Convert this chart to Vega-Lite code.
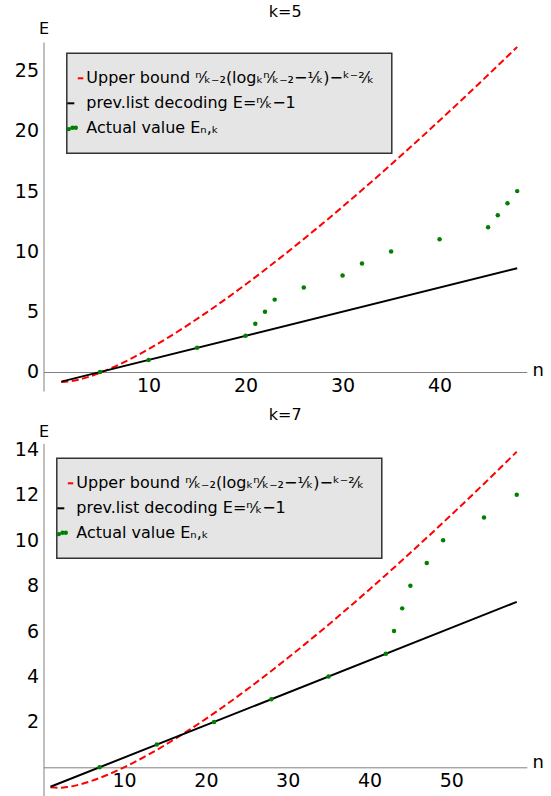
{
  "$schema": "https://vega.github.io/schema/vega-lite/v6.json",
  "background": "white",
  "padding": {"left": 13.5, "top": 4, "right": 5, "bottom": 0},
  "autosize": {"type": "pad"},
  "spacing": 52.3,
  "bounds": "flush",
  "config": {
    "view": {"stroke": null},
    "font": "DejaVu Sans",
    "axis": {
      "grid": false,
      "domainColor": "#808080",
      "tickColor": "#808080",
      "tickWidth": 1,
      "domainWidth": 1,
      "tickSize": 0,
      "labelColor": "#000000",
      "labelFont": "DejaVu Sans",
      "labelFontSize": 19,
      "labelOverlap": false,
      "labelFlush": false,
      "labelBound": false,
      "labelPadding": 5,
      "format": "d",
      "titleFont": "DejaVu Sans",
      "titleFontWeight": "normal",
      "titleColor": "#000000",
      "titleAngle": 0,
      "titleAlign": "center",
      "titleBaseline": "alphabetic"
    },
    "legend": {
      "orient": "none",
      "fillColor": "#e5e5e5",
      "strokeColor": "#333333",
      "padding": 17,
      "labelFont": "DejaVu Sans",
      "labelFontSize": 16,
      "labelColor": "#000000",
      "labelLimit": 0,
      "symbolSize": 4,
      "symbolOffset": -7.5,
      "rowPadding": 9,
      "labelOffset": -6,
      "title": null
    },
    "title": {
      "font": "DejaVu Sans",
      "fontSize": 16,
      "fontWeight": "normal",
      "color": "#000000",
      "anchor": "middle",
      "frame": "group",
      "baseline": "alphabetic"
    }
  },
  "resolve": {"scale": {"color": "independent"}, "legend": {"color": "independent"}},
  "datasets": {
    "k5": [
      {"s": "bound", "n": 1, "E": -0.828},
      {"s": "bound", "n": 2, "E": -0.768},
      {"s": "bound", "n": 3, "E": -0.6},
      {"s": "bound", "n": 4, "E": -0.362},
      {"s": "bound", "n": 5, "E": -0.071},
      {"s": "bound", "n": 6, "E": 0.261},
      {"s": "bound", "n": 7, "E": 0.628},
      {"s": "bound", "n": 8, "E": 1.025},
      {"s": "bound", "n": 10, "E": 1.894},
      {"s": "bound", "n": 12, "E": 2.845},
      {"s": "bound", "n": 14, "E": 3.867},
      {"s": "bound", "n": 16, "E": 4.947},
      {"s": "bound", "n": 18, "E": 6.08},
      {"s": "bound", "n": 20, "E": 7.258},
      {"s": "bound", "n": 22, "E": 8.478},
      {"s": "bound", "n": 24, "E": 9.736},
      {"s": "bound", "n": 26, "E": 11.029},
      {"s": "bound", "n": 28, "E": 12.353},
      {"s": "bound", "n": 30, "E": 13.707},
      {"s": "bound", "n": 32, "E": 15.088},
      {"s": "bound", "n": 34, "E": 16.495},
      {"s": "bound", "n": 36, "E": 17.928},
      {"s": "bound", "n": 38, "E": 19.382},
      {"s": "bound", "n": 40, "E": 20.859},
      {"s": "bound", "n": 42, "E": 22.356},
      {"s": "bound", "n": 44, "E": 23.873},
      {"s": "bound", "n": 46, "E": 25.408},
      {"s": "bound", "n": 48, "E": 26.963},
      {"s": "prev", "n": 1, "E": -0.8},
      {"s": "prev", "n": 48, "E": 8.6},
      {"s": "actual", "n": 5, "E": 0},
      {"s": "actual", "n": 10, "E": 1},
      {"s": "actual", "n": 15, "E": 2},
      {"s": "actual", "n": 20, "E": 3},
      {"s": "actual", "n": 21, "E": 4},
      {"s": "actual", "n": 22, "E": 5},
      {"s": "actual", "n": 23, "E": 6},
      {"s": "actual", "n": 26, "E": 7},
      {"s": "actual", "n": 30, "E": 8},
      {"s": "actual", "n": 32, "E": 9},
      {"s": "actual", "n": 35, "E": 10},
      {"s": "actual", "n": 40, "E": 11},
      {"s": "actual", "n": 45, "E": 12},
      {"s": "actual", "n": 46, "E": 13},
      {"s": "actual", "n": 47, "E": 14},
      {"s": "actual", "n": 48, "E": 15}
    ],
    "k7": [
      {"s": "bound", "n": 1, "E": -0.88},
      {"s": "bound", "n": 2, "E": -0.903},
      {"s": "bound", "n": 3, "E": -0.872},
      {"s": "bound", "n": 4, "E": -0.806},
      {"s": "bound", "n": 5, "E": -0.714},
      {"s": "bound", "n": 6, "E": -0.602},
      {"s": "bound", "n": 8, "E": -0.328},
      {"s": "bound", "n": 10, "E": -0.002},
      {"s": "bound", "n": 12, "E": 0.366},
      {"s": "bound", "n": 14, "E": 0.767},
      {"s": "bound", "n": 16, "E": 1.199},
      {"s": "bound", "n": 18, "E": 1.656},
      {"s": "bound", "n": 20, "E": 2.135},
      {"s": "bound", "n": 22, "E": 2.636},
      {"s": "bound", "n": 24, "E": 3.155},
      {"s": "bound", "n": 26, "E": 3.692},
      {"s": "bound", "n": 28, "E": 4.244},
      {"s": "bound", "n": 30, "E": 4.811},
      {"s": "bound", "n": 32, "E": 5.391},
      {"s": "bound", "n": 34, "E": 5.985},
      {"s": "bound", "n": 36, "E": 6.59},
      {"s": "bound", "n": 38, "E": 7.207},
      {"s": "bound", "n": 40, "E": 7.835},
      {"s": "bound", "n": 42, "E": 8.473},
      {"s": "bound", "n": 44, "E": 9.121},
      {"s": "bound", "n": 46, "E": 9.778},
      {"s": "bound", "n": 48, "E": 10.444},
      {"s": "bound", "n": 50, "E": 11.119},
      {"s": "bound", "n": 52, "E": 11.801},
      {"s": "bound", "n": 54, "E": 12.492},
      {"s": "bound", "n": 56, "E": 13.191},
      {"s": "bound", "n": 58, "E": 13.897},
      {"s": "prev", "n": 1, "E": -0.857},
      {"s": "prev", "n": 58, "E": 7.286},
      {"s": "actual", "n": 7, "E": 0},
      {"s": "actual", "n": 14, "E": 1},
      {"s": "actual", "n": 21, "E": 2},
      {"s": "actual", "n": 28, "E": 3},
      {"s": "actual", "n": 35, "E": 4},
      {"s": "actual", "n": 42, "E": 5},
      {"s": "actual", "n": 43, "E": 6},
      {"s": "actual", "n": 44, "E": 7},
      {"s": "actual", "n": 45, "E": 8},
      {"s": "actual", "n": 47, "E": 9},
      {"s": "actual", "n": 49, "E": 10},
      {"s": "actual", "n": 54, "E": 11},
      {"s": "actual", "n": 58, "E": 12}
    ]
  },
  "vconcat": [
    {
      "title": {"text": "k=5", "offset": 0.5},
      "width": 483.3,
      "height": 349,
      "data": {"name": "k5"},
      "encoding": {
        "x": {
          "field": "n", "type": "quantitative",
          "scale": {"domain": [-0.835, 48.99], "nice": false, "zero": false},
          "axis": {
            "title": "n", "orient": "bottom", "offset": -19, "labelPadding": 4,
            "values": [2,4,6,8,10,12,14,16,18,20,22,24,26,28,30,32,34,36,38,40,42,44,46,48],
            "labelExpr": "datum.value % 10 == 0 ? datum.label : ''",
            "titleX": 494.3, "titleY": 3.3, "titleFontSize": 18,
            "encode": {"ticks": {"update": {"y2": {"signal": "datum.value % 10 == 0 ? -4.5 : -2.5"}}}}
          }
        },
        "y": {
          "field": "E", "type": "quantitative",
          "scale": {"domain": [-1.58, 27.37], "nice": false, "zero": false},
          "axis": {
            "title": "E", "orient": "left",
            "values": [-1,0,1,2,3,4,5,6,7,8,9,10,11,12,13,14,15,16,17,18,19,20,21,22,23,24,25,26,27],
            "labelExpr": "datum.value % 5 == 0 && datum.value >= 0 ? datum.label : ''",
            "titleX": 0, "titleY": -8.4, "titleFontSize": 16,
            "encode": {"ticks": {"update": {"x2": {"signal": "datum.value % 5 == 0 ? 4.5 : 2.5"}}}}
          }
        },
        "color": {
          "field": "s", "type": "nominal",
          "scale": {"domain": ["bound", "prev", "actual"], "range": ["#ff0000", "#000000", "#008000"]},
          "legend": {
            "legendX": 23.3, "legendY": 11.3,
            "labelExpr": "datum.value == 'bound' ? 'Upper bound ⁿ⁄ₖ₋₂(logₖⁿ⁄ₖ₋₂−¹⁄ₖ)−ᵏ⁻²⁄ₖ' : datum.value == 'prev' ? 'prev.list decoding E=ⁿ⁄ₖ−1' : 'Actual value Eₙ,ₖ'",
            "encode": {
              "legend": {"update": {"strokeWidth": {"value": 1.5}}},
              "symbols": {"update": {
                "shape": {"signal": "datum.value == 'bound' ? 'M-6.5,0H-1' : datum.value == 'prev' ? 'M-17,0H-10' : 'M-16.7,0.8a1.2,1.2 0 1,0 2.4,0a1.2,1.2 0 1,0 -2.4,0M-13,-0.6a1.2,1.2 0 1,0 2.4,0a1.2,1.2 0 1,0 -2.4,0M-9.7,-0.6a1.2,1.2 0 1,0 2.4,0a1.2,1.2 0 1,0 -2.4,0'"},
                "fill": {"signal": "datum.value == 'actual' ? '#008000' : 'transparent'"},
                "stroke": {"signal": "datum.value == 'actual' ? 'transparent' : datum.value == 'bound' ? '#ff0000' : '#000000'"},
                "strokeWidth": {"value": 2},
                "opacity": {"value": 1}
              }}
            }
          }
        }
      },
      "layer": [
        {"transform": [{"filter": "datum.s == 'bound'"}], "mark": {"type": "line", "strokeDash": [7, 3.5], "strokeWidth": 2, "interpolate": "monotone"}},
        {"transform": [{"filter": "datum.s == 'prev'"}], "mark": {"type": "line", "strokeWidth": 2}},
        {"transform": [{"filter": "datum.s == 'actual'"}], "mark": {"type": "point", "filled": true, "size": 20, "opacity": 1}}
      ]
    },
    {
      "title": {"text": "k=7", "offset": 1},
      "width": 483.3,
      "height": 353,
      "data": {"name": "k7"},
      "encoding": {
        "x": {
          "field": "n", "type": "quantitative",
          "scale": {"domain": [0.147, 59.23], "nice": false, "zero": false},
          "axis": {
            "title": "n", "orient": "bottom", "offset": -29, "labelPadding": 4,
            "values": [2,4,6,8,10,12,14,16,18,20,22,24,26,28,30,32,34,36,38,40,42,44,46,48,50,52,54,56,58],
            "labelExpr": "datum.value % 10 == 0 ? datum.label : ''",
            "titleX": 494.3, "titleY": 0, "titleFontSize": 18,
            "encode": {"ticks": {"update": {"y2": {"signal": "datum.value % 10 == 0 ? -4.5 : -2.5"}}}}
          }
        },
        "y": {
          "field": "E", "type": "quantitative",
          "scale": {"domain": [-1.277, 14.27], "nice": false, "zero": false},
          "axis": {
            "title": "E", "orient": "left",
            "values": [-1,-0.5,0,0.5,1,1.5,2,2.5,3,3.5,4,4.5,5,5.5,6,6.5,7,7.5,8,8.5,9,9.5,10,10.5,11,11.5,12,12.5,13,13.5,14],
            "labelExpr": "datum.value % 2 == 0 && datum.value > 0 ? datum.label : ''",
            "titleX": 0, "titleY": -6.3, "titleFontSize": 16,
            "encode": {"ticks": {"update": {"x2": {"signal": "datum.value % 2 == 0 ? 4.5 : 2.5"}}}}
          }
        },
        "color": {
          "field": "s", "type": "nominal",
          "scale": {"domain": ["bound", "prev", "actual"], "range": ["#ff0000", "#000000", "#008000"]},
          "legend": {
            "legendX": 13.3, "legendY": 15,
            "labelExpr": "datum.value == 'bound' ? 'Upper bound ⁿ⁄ₖ₋₂(logₖⁿ⁄ₖ₋₂−¹⁄ₖ)−ᵏ⁻²⁄ₖ' : datum.value == 'prev' ? 'prev.list decoding E=ⁿ⁄ₖ−1' : 'Actual value Eₙ,ₖ'",
            "encode": {
              "legend": {"update": {"strokeWidth": {"value": 1.5}}},
              "symbols": {"update": {
                "shape": {"signal": "datum.value == 'bound' ? 'M-6.5,0H-1' : datum.value == 'prev' ? 'M-17,0H-10' : 'M-16.7,0.8a1.2,1.2 0 1,0 2.4,0a1.2,1.2 0 1,0 -2.4,0M-13,-0.6a1.2,1.2 0 1,0 2.4,0a1.2,1.2 0 1,0 -2.4,0M-9.7,-0.6a1.2,1.2 0 1,0 2.4,0a1.2,1.2 0 1,0 -2.4,0'"},
                "fill": {"signal": "datum.value == 'actual' ? '#008000' : 'transparent'"},
                "stroke": {"signal": "datum.value == 'actual' ? 'transparent' : datum.value == 'bound' ? '#ff0000' : '#000000'"},
                "strokeWidth": {"value": 2},
                "opacity": {"value": 1}
              }}
            }
          }
        }
      },
      "layer": [
        {"transform": [{"filter": "datum.s == 'bound'"}], "mark": {"type": "line", "strokeDash": [7, 3.5], "strokeWidth": 2, "interpolate": "monotone"}},
        {"transform": [{"filter": "datum.s == 'prev'"}], "mark": {"type": "line", "strokeWidth": 2}},
        {"transform": [{"filter": "datum.s == 'actual'"}], "mark": {"type": "point", "filled": true, "size": 20, "opacity": 1}}
      ]
    }
  ]
}
